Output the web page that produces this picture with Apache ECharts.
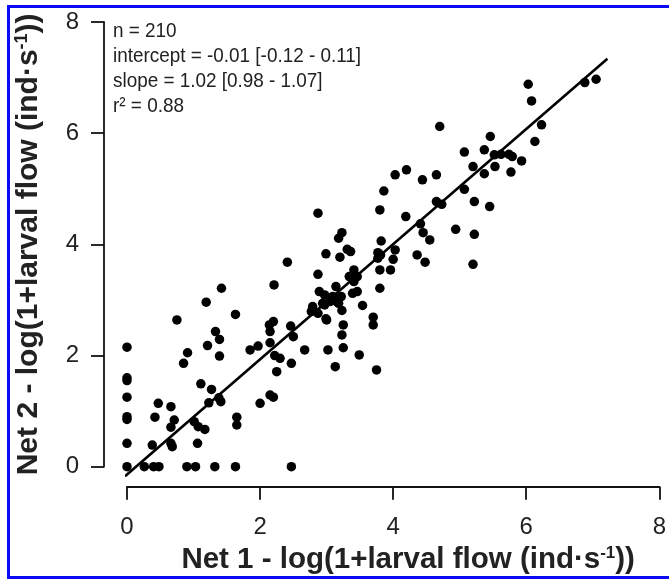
<!DOCTYPE html>
<html>
<head>
<meta charset="utf-8">
<script src="https://cdn.jsdelivr.net/npm/echarts@6/dist/echarts.min.js"></script>
<style>
html,body{margin:0;padding:0;background:#fff;}
#chart{width:669px;height:580px;}
</style>
</head>
<body>
<div id="chart"></div>
<script>
// Net 1 (x) and Net 2 (y) values
const net1 = [
 0,0,0,0,0,0,0,0,
 0.26,0.4,0.48,0.9,1.03,1.32,1.63,2.47,
 0.38,0.66,0.68,1.06,0.42,0.47,0.66,0.71,0.66,1.01,1.07,1.17,1.11,1.27,1.23,1.41,1.38,1.65,1.65,
 0.85,0.91,1.21,1.33,1.39,1.39,1.85,1.97,2.0,
 2.15,2.2,2.25,2.47,2.22,2.3,2.67,3.02,2.5,2.15,2.15,
 2.87,2.99,2.41,2.87,2.89,2.21,1.42,1.19,0.75,1.63,2.2,2.14,2.46,2.79,2.94,2.99,
 4.03,3.86,3.8,3.23,3.18,3.31,3.36,3.2,3.82,3.77,4.03,4.0,3.77,3.8,3.96,3.8,3.41,3.34,3.46,3.41,3.14,2.97,3.09,3.22,3.39,3.46,3.05,3.15,
 2.79,2.77,2.87,2.97,3.18,3.23,3.0,3.25,3.23,3.25,3.54,3.7,3.7,3.49,3.13,3.75,
 4.2,4.65,4.44,5.2,5.37,5.77,5.07,4.65,4.73,5.22,5.45,4.19,4.41,4.45,4.55,4.94,5.22,4.36,4.48,5.2,3.81,
 6.03,6.08,6.23,6.13,4.7,5.46,5.37,5.07,5.52,5.62,5.74,5.79,5.93,5.53,6.88,7.05
];
const net2 = [
 2.15,1.6,1.55,1.25,0.9,0.85,0.42,0,
 0,0,0,0,0,0,0,0,
 0.39,0.42,0.36,0.42,0.89,1.14,1.08,0.84,0.71,0.81,0.72,0.67,1.49,1.39,1.15,1.17,1.24,0.89,0.75,
 1.86,2.05,2.18,2.43,2.29,1.99,2.1,2.17,1.14,
 1.29,1.25,1.71,1.86,2.0,1.95,2.1,2.1,2.34,2.23,2.43,
 4.56,3.83,3.68,3.46,3.15,3.27,3.21,2.96,2.64,2.74,2.61,2.55,2.53,2.83,2.94,2.66,
 5.25,4.96,4.62,4.21,4.11,3.91,3.87,3.77,4.06,3.85,3.9,3.73,3.75,3.54,3.54,3.21,3.54,3.42,3.42,3.33,3.24,3.09,3.06,3.06,3.12,3.15,2.97,2.97,
 2.88,2.79,2.76,2.91,2.94,2.81,2.64,2.55,2.37,2.14,2.9,2.69,2.55,2.01,1.8,1.74,
 5.34,5.25,5.16,5.4,5.27,5.3,4.99,4.77,4.72,4.77,4.68,4.5,4.37,4.21,4.08,4.27,4.18,3.81,3.68,3.64,3.81,
 6.88,6.58,6.15,5.85,6.12,5.94,5.7,5.66,5.61,5.62,5.62,5.58,5.5,5.4,6.91,6.97
];
// fitted line end points
const fitX = [-0.03, 7.22];
const fitY = [-0.17, 7.34];
const xTicks = [0, 2, 4, 6, 8];
const yTicks = [0, 2, 4, 6, 8];
const statLines = ['n = 210', 'intercept = -0.01 [-0.12 - 0.11]', 'slope = 1.02 [0.98 - 1.07]', 'r\u00b2 = 0.88'];

const points = net1.map((x, i) => [x, net2[i]]);
const fitLine = fitX.map((x, i) => [x, fitY[i]]);

const chart = echarts.init(document.getElementById('chart'), null, {renderer: 'canvas'});
const FONT = '"Liberation Sans", Arial, sans-serif';
const axisCommon = {
  type: 'value', min: 0, max: 8, interval: 2,
  splitLine: {show: false},
  axisLine: {show: true, onZero: false, lineStyle: {color: '#111', width: 1.8}},
  axisTick: {show: true, length: 13, lineStyle: {color: '#111', width: 1.8}}
};
const labelCommon = {fontSize: 24, color: '#222', fontFamily: FONT, formatter: v => String(v)};
function titleRich(fs) {
  return {
    b: {fontSize: fs, fontWeight: 'bold', color: '#222', fontFamily: FONT},
    sup: {fontSize: Math.round(fs * 0.59), fontWeight: 'bold', color: '#222', fontFamily: FONT, padding: [0, 0, Math.round(fs * 0.45), 0]}
  };
}
chart.setOption({
  animation: false,
  backgroundColor: '#fff',
  grid: {left: 127, right: 4, top: 22, bottom: 113.3, containLabel: false},
  xAxis: Object.assign({}, axisCommon, {
    offset: 20,
    axisLabel: Object.assign({margin: 29}, labelCommon),
    name: '{b|Net 1 - log(1+larval flow (ind\u00b7s}{sup|-1}{b|))}',
    nameLocation: 'middle', nameGap: 57,
    nameTextStyle: {rich: titleRich(29.5), padding: [0, 0, 0, 30]}
  }),
  yAxis: Object.assign({}, axisCommon, {
    offset: 23,
    axisLabel: Object.assign({margin: 25}, labelCommon),
    name: '{b|Net 2 - log(1+larval flow (ind\u00b7s}{sup|-1}{b|))}',
    nameLocation: 'middle', nameGap: 59, nameRotate: 90,
    nameTextStyle: {rich: titleRich(30)}
  }),
  graphic: [
    {type: 'rect', silent: true, shape: {x: 8.5, y: 6.5, width: 700, height: 571},
     style: {fill: 'none', stroke: '#0a0af5', lineWidth: 3}},
    {type: 'text', left: 113, top: 19, silent: true, scaleX: 0.9,
     style: {text: statLines.join('\n'), fontSize: 21, lineHeight: 25, fill: '#222', fontFamily: FONT}}
  ],
  series: [
    {type: 'scatter', data: points, symbol: 'circle', symbolSize: 9.5, clip: false,
     itemStyle: {color: '#000', opacity: 1}},
    {type: 'line', data: fitLine, showSymbol: false, symbol: 'none', clip: false,
     lineStyle: {color: '#000', width: 2.6}, z: 3}
  ]
});
</script>
</body>
</html>
